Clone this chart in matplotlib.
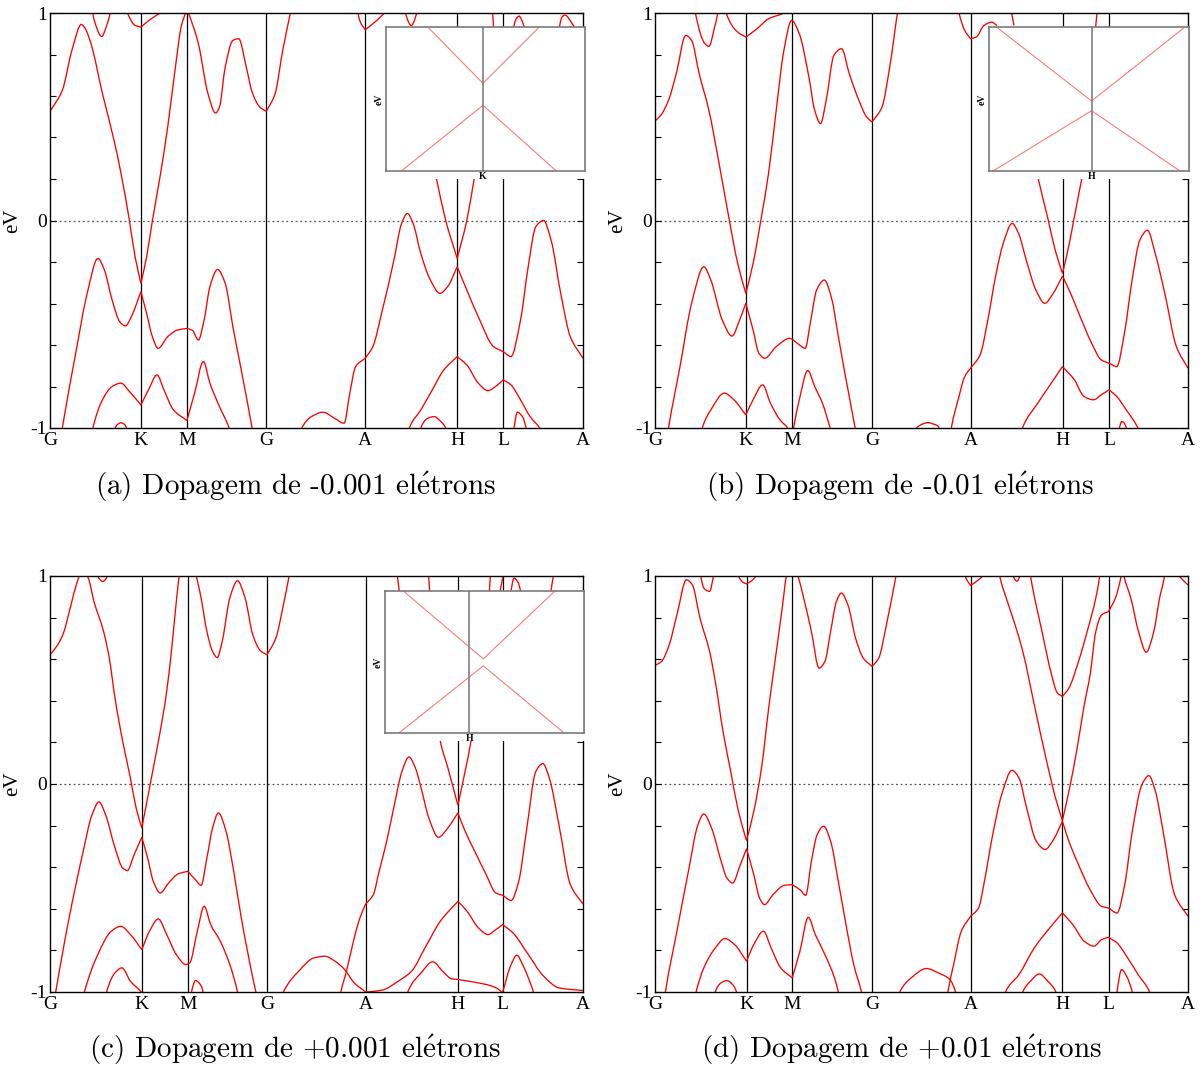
import matplotlib
matplotlib.use("Agg")
import matplotlib.pyplot as plt
from matplotlib.patches import Rectangle, PathPatch
from matplotlib.path import Path
from matplotlib.ticker import MultipleLocator

# ---------------------------------------------------------------------------
# High-symmetry path and band data (k in path units, E in eV relative to E_F)
# ---------------------------------------------------------------------------
kpoint_labels = ['G', 'K', 'M', 'G', 'A', 'H', 'L', 'A']

ticks_a = [0.0, 0.909, 1.369, 2.163, 3.152, 4.072, 4.532, 5.33]
ticks_b = [0.0, 0.908, 1.370, 2.170, 3.155, 4.075, 4.540, 5.33]
ticks_c = [0.0, 0.918, 1.377, 2.170, 3.157, 4.079, 4.527, 5.33]
ticks_d = [0.0, 0.915, 1.372, 2.171, 3.155, 4.074, 4.535, 5.33]

# (a) doping -0.001 e
bands_a = [
    [(0.09, -1.1), (0.123, -1.0), (0.257, -0.64), (0.372, -0.351), (0.479, -0.183), (0.544, -0.239),
     (0.621, -0.383), (0.698, -0.488), (0.755, -0.508), (0.813, -0.464), (0.909, -0.343), (0.966, -0.447),
     (1.024, -0.56), (1.081, -0.616), (1.177, -0.56), (1.273, -0.528), (1.369, -0.52), (1.426, -0.53),
     (1.484, -0.576), (1.541, -0.48), (1.599, -0.319), (1.676, -0.236), (1.752, -0.303), (1.829, -0.512),
     (1.906, -0.704), (2.021, -1.0), (2.05, -1.08)],
    [(0.0, 0.526), (0.123, 0.627), (0.219, 0.82), (0.314, 0.945), (0.352, 0.925), (0.41, 0.852),
     (0.525, 0.611), (0.64, 0.387), (0.717, 0.21), (0.794, 0.0), (0.851, -0.175), (0.909, -0.303),
     (0.966, -0.175), (1.024, 0.0), (1.1, 0.21), (1.177, 0.451), (1.254, 0.739), (1.311, 0.932),
     (1.369, 1.02), (1.446, 0.916), (1.484, 0.852), (1.58, 0.611), (1.656, 0.518), (1.695, 0.547),
     (1.752, 0.739), (1.829, 0.868), (1.887, 0.876), (1.963, 0.739), (2.021, 0.619), (2.097, 0.547),
     (2.163, 0.526), (2.251, 0.611), (2.327, 0.82), (2.404, 1.0), (2.43, 1.06)],
    [(0.40, -1.08), (0.429, -1.0), (0.525, -0.864), (0.621, -0.8), (0.709, -0.784), (0.794, -0.824),
     (0.909, -0.889), (0.985, -0.816), (1.07, -0.744), (1.139, -0.816), (1.235, -0.913), (1.369, -0.964),
     (1.446, -0.832), (1.534, -0.68), (1.599, -0.784), (1.695, -0.897), (1.791, -1.0), (1.82, -1.05)],
    [(0.62, -1.04), (0.67, -0.985), (0.709, -0.975), (0.75, -0.985), (0.79, -1.04)],
    [(0.41, 1.05), (0.44, 0.97), (0.518, 0.887), (0.56, 0.93), (0.602, 1.0), (0.62, 1.05)],
    [(0.75, 1.04), (0.775, 1.0), (0.851, 0.94), (0.909, 0.932), (1.005, 0.97), (1.1, 1.0), (1.15, 1.02)],
    [(2.49, -1.06), (2.519, -1.0), (2.615, -0.945), (2.73, -0.924), (2.845, -0.953), (2.941, -0.977),
     (2.998, -0.832), (3.056, -0.704), (3.152, -0.664), (3.228, -0.608), (3.324, -0.431), (3.439, -0.191),
     (3.516, -0.014), (3.574, 0.034), (3.631, -0.014), (3.708, -0.159), (3.804, -0.287), (3.9, -0.351),
     (3.976, -0.319), (4.072, -0.223), (4.168, -0.335), (4.283, -0.464), (4.436, -0.608), (4.532, -0.632),
     (4.609, -0.656), (4.705, -0.48), (4.782, -0.223), (4.858, -0.03), (4.935, 0.0), (5.011, -0.095),
     (5.107, -0.351), (5.203, -0.56), (5.33, -0.664)],
    [(3.76, 0.43), (3.861, 0.21), (3.957, 0.0), (4.072, -0.183), (4.168, 0.0), (4.245, 0.21), (4.33, 0.43)],
    [(3.57, -1.05), (3.593, -1.0), (3.708, -0.913), (3.823, -0.816), (3.938, -0.72), (4.072, -0.656),
     (4.168, -0.696), (4.283, -0.784), (4.379, -0.82), (4.456, -0.8), (4.532, -0.768), (4.609, -0.792),
     (4.705, -0.864), (4.801, -0.945), (4.897, -1.0), (4.93, -1.03)],
    [(3.69, -1.04), (3.708, -1.0), (3.77, -0.955), (3.842, -0.945), (3.90, -0.965), (3.957, -1.0), (3.98, -1.04)],
    [(4.63, -1.04), (4.64, -1.0), (4.674, -0.924), (4.724, -0.945), (4.762, -1.0), (4.78, -1.04)],
    [(3.06, 1.05), (3.10, 0.96), (3.152, 0.919), (3.228, 0.948), (3.324, 0.99), (3.40, 1.03)],
    [(3.53, 1.03), (3.612, 0.94), (3.69, 1.03)],
    [(4.42, 1.05), (4.44, 0.9)],
    [(4.62, 0.9), (4.66, 0.97), (4.69, 0.985), (4.73, 0.95), (4.76, 0.9)],
    [(5.08, 0.9), (5.12, 0.98), (5.15, 0.99), (5.22, 0.95), (5.27, 0.91)],
]

# (b) doping -0.01 e
bands_b = [
    [(0.0, 0.48), (0.058, 0.507), (0.135, 0.579), (0.212, 0.707), (0.308, 0.892), (0.366, 0.868),
     (0.442, 0.707), (0.539, 0.531), (0.635, 0.29), (0.731, 0.034), (0.827, -0.207), (0.908, -0.351),
     (0.981, -0.207), (1.058, 0.0), (1.135, 0.226), (1.212, 0.531), (1.289, 0.82), (1.366, 0.964),
     (1.443, 0.9), (1.539, 0.691), (1.597, 0.531), (1.655, 0.467), (1.712, 0.579), (1.789, 0.796),
     (1.866, 0.828), (1.943, 0.707), (2.039, 0.579), (2.116, 0.499), (2.17, 0.475), (2.27, 0.547),
     (2.347, 0.739), (2.424, 1.0), (2.44, 1.05)],
    [(0.11, -1.08), (0.135, -1.0), (0.25, -0.704), (0.366, -0.399), (0.489, -0.223), (0.558, -0.287),
     (0.673, -0.48), (0.77, -0.557), (0.846, -0.48), (0.908, -0.399), (0.981, -0.528), (1.039, -0.64),
     (1.097, -0.664), (1.212, -0.608), (1.347, -0.568), (1.424, -0.592), (1.501, -0.616), (1.558, -0.48),
     (1.616, -0.335), (1.693, -0.287), (1.77, -0.383), (1.828, -0.544), (1.905, -0.752), (2.001, -1.0),
     (2.03, -1.08)],
    [(0.45, -1.06), (0.473, -1.0), (0.558, -0.913), (0.693, -0.832), (0.789, -0.864), (0.908, -0.937),
     (0.981, -0.864), (1.077, -0.792), (1.154, -0.88), (1.25, -0.961), (1.327, -1.0), (1.37, -1.04),
     (1.385, -1.0), (1.443, -0.864), (1.528, -0.723), (1.597, -0.8), (1.674, -0.88), (1.751, -1.0),
     (1.78, -1.05)],
    [(0.39, 1.05), (0.404, 1.0), (0.5, 0.852), (0.539, 0.839), (0.596, 0.932), (0.627, 1.0), (0.64, 1.05)],
    [(0.70, 1.03), (0.712, 1.0), (0.827, 0.908), (0.908, 0.884), (1.02, 0.924), (1.135, 0.972),
     (1.27, 0.996), (1.33, 1.01)],
    [(2.58, -1.05), (2.616, -1.0), (2.68, -0.98), (2.732, -0.974), (2.79, -0.982), (2.828, -0.99), (2.87, -1.04)],
    [(2.94, -1.08), (2.963, -1.0), (3.04, -0.848), (3.097, -0.752), (3.155, -0.712), (3.251, -0.648),
     (3.328, -0.48), (3.405, -0.271), (3.482, -0.111), (3.571, -0.014), (3.636, -0.063), (3.713, -0.191),
     (3.809, -0.335), (3.898, -0.399), (3.982, -0.351), (4.075, -0.268), (4.156, -0.351), (4.252, -0.464),
     (4.367, -0.592), (4.463, -0.672), (4.54, -0.688), (4.617, -0.704), (4.694, -0.544), (4.771, -0.287),
     (4.848, -0.095), (4.925, -0.047), (5.002, -0.159), (5.098, -0.351), (5.214, -0.608), (5.33, -0.712)],
    [(3.74, 0.42), (3.828, 0.21), (3.925, 0.018), (4.002, -0.143), (4.075, -0.255), (4.136, -0.127),
     (4.194, 0.018), (4.271, 0.21), (4.36, 0.42)],
    [(3.65, -1.05), (3.675, -1.0), (3.828, -0.88), (3.963, -0.784), (4.075, -0.704), (4.194, -0.768),
     (4.29, -0.848), (4.386, -0.864), (4.463, -0.84), (4.54, -0.816), (4.617, -0.848), (4.713, -0.913),
     (4.829, -1.0), (4.86, -1.04)],
    [(4.63, -1.04), (4.644, -1.0), (4.667, -0.969), (4.69, -0.975), (4.714, -1.0), (4.73, -1.04)],
    [(3.02, 1.05), (3.04, 1.0), (3.097, 0.916), (3.155, 0.876), (3.213, 0.884), (3.29, 0.94),
     (3.367, 0.956), (3.42, 0.94)],
    [(3.55, 1.04), (3.59, 0.94)],
    [(4.39, 0.85), (4.42, 1.0), (4.43, 1.05)],
]

# (c) doping +0.001 e
bands_c = [
    [(0.0, 0.621), (0.077, 0.669), (0.134, 0.725), (0.21, 0.861), (0.268, 0.966), (0.306, 1.01),
     (0.345, 1.02), (0.383, 0.99), (0.44, 0.877), (0.536, 0.733), (0.593, 0.605), (0.65, 0.413),
     (0.727, 0.205), (0.804, 0.029), (0.861, -0.115), (0.918, -0.211), (0.976, -0.067), (1.033, 0.077),
     (1.09, 0.221), (1.167, 0.445), (1.224, 0.685), (1.263, 0.877), (1.293, 1.0), (1.377, 1.12),
     (1.462, 1.0), (1.511, 0.894), (1.569, 0.733), (1.626, 0.637), (1.672, 0.608), (1.722, 0.685),
     (1.798, 0.894), (1.875, 0.977), (1.951, 0.894), (2.028, 0.717), (2.104, 0.641), (2.17, 0.621),
     (2.258, 0.701), (2.334, 0.861), (2.391, 1.0), (2.41, 1.05)],
    [(0.04, -1.05), (0.057, -1.0), (0.191, -0.644), (0.325, -0.339), (0.421, -0.147), (0.49, -0.086),
     (0.555, -0.147), (0.65, -0.307), (0.727, -0.404), (0.773, -0.416), (0.842, -0.339), (0.918, -0.256),
     (0.976, -0.355), (1.033, -0.468), (1.102, -0.524), (1.186, -0.476), (1.282, -0.432), (1.377, -0.42),
     (1.454, -0.46), (1.511, -0.487), (1.569, -0.355), (1.626, -0.211), (1.684, -0.139), (1.76, -0.227),
     (1.837, -0.42), (1.913, -0.644), (2.028, -0.932), (2.059, -1.0), (2.08, -1.05)],
    [(0.32, -1.05), (0.344, -1.0), (0.478, -0.82), (0.612, -0.708), (0.708, -0.684), (0.804, -0.724),
     (0.918, -0.796), (0.995, -0.708), (1.083, -0.649), (1.167, -0.724), (1.263, -0.82), (1.358, -0.868),
     (1.397, -0.86), (1.473, -0.708), (1.542, -0.588), (1.607, -0.676), (1.703, -0.756), (1.798, -0.868),
     (1.875, -1.0), (1.89, -1.04)],
    [(0.55, -1.04), (0.566, -1.0), (0.65, -0.908), (0.719, -0.884), (0.804, -0.948), (0.899, -0.993), (0.95, -1.02)],
    [(1.40, -1.04), (1.415, -1.0), (1.454, -0.945), (1.511, -0.97), (1.55, -1.04)],
    [(0.46, 1.05), (0.478, 1.0), (0.528, 0.974), (0.574, 1.0), (0.59, 1.05)],
    [(2.30, -1.05), (2.334, -1.0), (2.487, -0.9), (2.64, -0.836), (2.747, -0.828), (2.851, -0.852),
     (2.946, -0.892), (3.042, -0.956), (3.157, -1.0), (3.233, -0.997), (3.329, -0.99), (3.482, -0.948),
     (3.616, -0.9), (3.75, -0.788), (3.903, -0.66), (4.079, -0.564), (4.171, -0.612), (4.285, -0.692),
     (4.381, -0.724), (4.458, -0.7), (4.527, -0.676), (4.63, -0.716), (4.783, -0.82), (4.936, -0.924),
     (5.089, -0.98), (5.33, -0.993)],
    [(2.89, -1.05), (2.908, -1.0), (2.965, -0.9), (3.042, -0.74), (3.099, -0.644), (3.157, -0.577),
     (3.233, -0.532), (3.291, -0.42), (3.367, -0.275), (3.444, -0.099), (3.52, 0.061), (3.589, 0.13),
     (3.654, 0.077), (3.711, -0.019), (3.788, -0.163), (3.884, -0.256), (3.979, -0.211), (4.079, -0.139),
     (4.151, -0.227), (4.247, -0.323), (4.362, -0.436), (4.458, -0.524), (4.527, -0.535), (4.611, -0.56),
     (4.687, -0.468), (4.764, -0.227), (4.859, 0.061), (4.928, 0.098), (4.993, 0.029), (5.089, -0.195),
     (5.204, -0.484), (5.33, -0.577)],
    [(3.84, 0.40), (3.903, 0.205), (3.979, 0.077), (4.079, -0.102), (4.151, 0.061), (4.209, 0.205), (4.26, 0.40)],
    [(3.56, -1.04), (3.578, -1.0), (3.711, -0.908), (3.826, -0.855), (3.941, -0.908), (4.018, -0.937),
     (4.079, -0.94), (4.247, -0.953), (4.419, -0.972), (4.515, -1.0), (4.54, -1.03)],
    [(4.52, -1.04), (4.527, -1.0), (4.611, -0.868), (4.668, -0.823), (4.726, -0.868), (4.783, -0.932),
     (4.833, -1.0), (4.85, -1.04)],
    [(3.46, 1.05), (3.50, 0.90)],
    [(3.78, 1.05), (3.80, 0.90)],
    [(4.39, 0.90), (4.41, 1.05)],
    [(4.49, 0.90), (4.55, 1.05)],
    [(4.60, 0.90), (4.64, 0.99), (4.68, 0.97), (4.72, 0.90)],
    [(5.00, 0.90), (5.05, 1.05)],
]

# (d) doping +0.01 e
bands_d = [
    [(0.0, 0.57), (0.065, 0.589), (0.142, 0.669), (0.219, 0.813), (0.315, 0.982), (0.373, 0.958),
     (0.45, 0.797), (0.546, 0.637), (0.603, 0.493), (0.68, 0.253), (0.757, 0.061), (0.834, -0.131),
     (0.915, -0.272), (0.988, -0.131), (1.065, 0.077), (1.141, 0.381), (1.218, 0.653), (1.276, 0.861),
     (1.314, 1.0), (1.372, 1.08), (1.43, 1.0), (1.487, 0.894), (1.564, 0.733), (1.641, 0.557),
     (1.699, 0.589), (1.756, 0.733), (1.814, 0.877), (1.864, 0.918), (1.929, 0.861), (2.006, 0.701),
     (2.083, 0.605), (2.171, 0.565), (2.237, 0.605), (2.314, 0.765), (2.41, 1.0), (2.43, 1.05)],
    [(0.09, -1.05), (0.104, -1.0), (0.219, -0.708), (0.334, -0.42), (0.43, -0.195), (0.488, -0.144),
     (0.565, -0.211), (0.661, -0.371), (0.719, -0.452), (0.776, -0.476), (0.853, -0.388), (0.915, -0.311),
     (0.988, -0.436), (1.045, -0.548), (1.095, -0.58), (1.18, -0.532), (1.295, -0.487), (1.372, -0.484),
     (1.449, -0.508), (1.507, -0.535), (1.564, -0.371), (1.622, -0.243), (1.687, -0.203), (1.756, -0.275),
     (1.833, -0.468), (1.91, -0.676), (1.987, -0.868), (2.064, -1.0), (2.08, -1.04)],
    [(0.39, -1.05), (0.411, -1.0), (0.488, -0.884), (0.603, -0.788), (0.699, -0.743), (0.796, -0.772),
     (0.915, -0.852), (0.988, -0.772), (1.084, -0.708), (1.161, -0.788), (1.257, -0.884), (1.372, -0.932),
     (1.449, -0.804), (1.533, -0.641), (1.603, -0.724), (1.699, -0.82), (1.795, -0.932), (1.833, -1.0),
     (1.85, -1.04)],
    [(0.59, -1.04), (0.603, -1.0), (0.661, -0.956), (0.719, -0.945), (0.776, -0.964), (0.815, -1.0), (0.83, -1.04)],
    [(0.44, 1.05), (0.457, 1.0), (0.488, 0.942), (0.546, 0.926), (0.584, 1.0), (0.60, 1.05)],
    [(0.81, 1.05), (0.834, 1.0), (0.88, 0.97), (0.915, 0.962), (0.96, 0.975), (1.007, 1.0), (1.03, 1.05)],
    [(2.42, -1.05), (2.448, -1.0), (2.563, -0.932), (2.717, -0.887), (2.832, -0.908), (2.948, -0.94),
     (3.005, -1.0), (3.02, -1.04)],
    [(2.91, -1.06), (2.929, -1.0), (2.986, -0.868), (3.063, -0.708), (3.155, -0.636), (3.236, -0.596),
     (3.294, -0.468), (3.371, -0.259), (3.467, -0.051), (3.57, 0.066), (3.64, 0.029), (3.716, -0.115),
     (3.813, -0.275), (3.901, -0.315), (3.985, -0.267), (4.074, -0.179), (4.139, -0.275), (4.235, -0.388),
     (4.351, -0.508), (4.466, -0.588), (4.535, -0.596), (4.62, -0.62), (4.697, -0.484), (4.773, -0.227),
     (4.869, -0.003), (4.939, 0.04), (5.004, -0.035), (5.081, -0.227), (5.196, -0.532), (5.33, -0.636)],
    [(3.43, 1.05), (3.447, 1.0), (3.524, 0.877), (3.601, 0.765), (3.678, 0.637), (3.793, 0.381),
     (3.909, 0.125), (4.005, -0.067), (4.074, -0.176), (4.139, -0.035), (4.216, 0.157), (4.293, 0.381),
     (4.351, 0.525), (4.408, 0.733), (4.466, 0.813), (4.535, 0.829), (4.604, 0.894), (4.662, 1.0), (4.68, 1.05)],
    [(3.74, 1.05), (3.755, 1.0), (3.87, 0.733), (3.966, 0.525), (4.024, 0.437), (4.074, 0.421),
     (4.139, 0.461), (4.235, 0.589), (4.331, 0.749), (4.408, 0.894), (4.447, 1.0), (4.46, 1.05)],
    [(3.48, -1.05), (3.505, -1.0), (3.64, -0.916), (3.793, -0.788), (3.947, -0.692), (4.074, -0.62),
     (4.178, -0.676), (4.293, -0.756), (4.389, -0.78), (4.466, -0.748), (4.535, -0.737), (4.62, -0.764),
     (4.716, -0.828), (4.831, -0.916), (4.946, -1.0), (4.97, -1.04)],
    [(3.66, -1.04), (3.678, -1.0), (3.755, -0.948), (3.843, -0.913), (3.928, -0.948), (4.005, -0.996), (4.03, -1.04)],
    [(4.61, -1.04), (4.62, -1.0), (4.666, -0.892), (4.716, -0.924), (4.773, -1.0), (4.79, -1.04)],
    [(4.67, 1.05), (4.689, 1.0), (4.758, 0.894), (4.835, 0.733), (4.912, 0.634), (4.988, 0.733),
     (5.046, 0.894), (5.096, 1.0), (5.11, 1.05)],
    [(5.19, 1.03), (5.25, 0.995), (5.33, 0.957)],
    [(3.08, 1.05), (3.101, 1.0), (3.155, 0.954), (3.236, 0.982), (3.274, 1.0), (3.29, 1.03)],
    [(3.55, 1.03), (3.62, 0.975), (3.67, 1.03)],
]

# Zoomed views of the gap at the crossing point
inset_a_upper = [(-0.0277, 0.1), (0.0, 0.0218), (0.0283, 0.1)]
inset_a_lower = [(-0.041, -0.1), (0.0, -0.0088), (0.0369, -0.1)]
inset_b_upper = [(-0.0476, 0.1), (0.0, -0.0028), (0.0467, 0.1)]
inset_b_lower = [(-0.0493, -0.1), (0.0, -0.0162), (0.0442, -0.1)]
inset_c_upper = [(-0.0402, 0.1), (0.0, 0.0044), (0.036, 0.1)]
inset_c_lower = [(-0.0424, -0.1), (0.0, -0.0054), (0.0406, -0.1)]

captions = [
    r'(a) Dopagem de -0.001 el$\mathrm{\acute{e}}$trons',
    r'(b) Dopagem de -0.01 el$\mathrm{\acute{e}}$trons',
    r'(c) Dopagem de +0.001 el$\mathrm{\acute{e}}$trons',
    r'(d) Dopagem de +0.01 el$\mathrm{\acute{e}}$trons',
]

# ---------------------------------------------------------------------------
plt.rcParams['mathtext.fontset'] = 'cm'
W, H = 1202, 1070
fig = plt.figure(figsize=(W / 100, H / 100), dpi=100)
SERIF = 'Liberation Serif'
RED = '#ff0000'


def px_rect(l, t, r, b):
    return [l / W, 1 - b / H, (r - l) / W, (b - t) / H]


def band_path(points, corners):
    """Shape-preserving cubic Bezier path through the band points.
    Points sitting on a high-symmetry line keep one-sided slopes (kinks)."""
    k = [p[0] for p in points]
    e = [p[1] for p in points]
    n = len(points)
    if n < 3:
        return Path(points)
    d = [(e[i + 1] - e[i]) / (k[i + 1] - k[i]) for i in range(n - 1)]
    m_in = [0.0] * n
    m_out = [0.0] * n
    m_in[0] = m_out[0] = d[0]
    m_in[-1] = m_out[-1] = d[-1]
    for i in range(1, n - 1):
        if any(abs(k[i] - c) < 2e-3 for c in corners):
            m_in[i], m_out[i] = d[i - 1], d[i]
        elif d[i - 1] * d[i] <= 0:
            m_in[i] = m_out[i] = 0.0
        else:
            h0, h1 = k[i] - k[i - 1], k[i + 1] - k[i]
            w1, w2 = 2 * h1 + h0, h1 + 2 * h0
            m = (w1 + w2) / (w1 / d[i - 1] + w2 / d[i])
            m_in[i] = m_out[i] = m
    verts = [(k[0], e[0])]
    codes = [Path.MOVETO]
    for i in range(n - 1):
        h = k[i + 1] - k[i]
        verts += [(k[i] + h / 3, e[i] + m_out[i] * h / 3),
                  (k[i + 1] - h / 3, e[i + 1] - m_in[i + 1] * h / 3),
                  (k[i + 1], e[i + 1])]
        codes += [Path.CURVE4] * 3
    return Path(verts, codes)


def band_panel(box, bands, ticks):
    ax = fig.add_axes(px_rect(*box))
    ax.set_zorder(0)
    for band in bands:
        ax.add_patch(PathPatch(band_path(band, ticks[1:-1]), facecolor='none',
                               edgecolor=RED, lw=0.95, zorder=2))
    for x in ticks[1:-1]:
        ax.axvline(x, color='black', lw=0.9, zorder=1.5)
    ax.axhline(0.0, color='#555555', lw=0.9, ls=(0, (1.5, 2.2)), zorder=1.4)
    ax.set_xlim(ticks[0], ticks[-1])
    ax.set_ylim(-1, 1)
    ax.set_xticks(ticks)
    ax.set_xticklabels(kpoint_labels, fontfamily=SERIF, fontsize=14)
    ax.tick_params(axis='x', length=0, pad=3)
    ax.set_yticks([-1, 0, 1])
    ax.set_yticklabels(['-1', '0', '1'], fontfamily=SERIF, fontsize=14)
    ax.yaxis.set_minor_locator(MultipleLocator(0.2))
    ax.tick_params(axis='y', which='both', direction='in', left=True, right=True,
                   length=4, width=0.8, pad=2)
    ax.set_ylabel('eV', fontfamily=SERIF, fontsize=15)
    ax.yaxis.set_label_coords(-0.052, 0.5)
    for s in ax.spines.values():
        s.set_linewidth(1.0)
        s.set_color('black')
    return ax


def zoom_inset(box, main_box, upper, lower, xlim, mark, label):
    l, t, r, b = box
    # white backing under the inset and its tick label
    fig.add_artist(Rectangle((l / W, 1 - (b + 8) / H), (main_box[2] + 3 - l) / W, 9 / H,
                             transform=fig.transFigure, facecolor='white',
                             edgecolor='none', zorder=1))
    ins = fig.add_axes(px_rect(*box))
    ins.set_zorder(2)
    for seg in (upper, lower):
        k, e = zip(*seg)
        ins.plot(k, e, color='#ff7a7a', lw=0.8)
    ins.axvline(mark, color='#808080', lw=1.2)
    ins.set_xlim(*xlim)
    ins.set_ylim(-0.1, 0.1)
    ins.set_xticks([mark])
    ins.set_xticklabels([label], fontfamily=SERIF, fontsize=7, fontweight='bold')
    ins.tick_params(axis='x', length=0, pad=0.5)
    ins.set_yticks([])
    ins.set_ylabel('eV', fontfamily=SERIF, fontsize=7, fontweight='bold', labelpad=2)
    for s in ins.spines.values():
        s.set_linewidth(1.2)
        s.set_color('#7a7a7a')
    return ins


box_a = (50, 13, 583, 428)
box_b = (655, 13, 1188, 428)
box_c = (50, 576, 583, 992)
box_d = (655, 576, 1188, 992)

band_panel(box_a, bands_a, ticks_a)
band_panel(box_b, bands_b, ticks_b)
band_panel(box_c, bands_c, ticks_c)
band_panel(box_d, bands_d, ticks_d)

zoom_inset((386, 27, 585, 171), box_a, inset_a_upper, inset_a_lower, (-0.0487, 0.0513), 0.0, 'K')
zoom_inset((989, 27, 1189, 171), box_b, inset_b_upper, inset_b_lower, (-0.0513, 0.0487), 0.0, 'H')
zoom_inset((385, 591, 584, 733), box_c, inset_c_upper, inset_c_lower, (-0.0494, 0.0506), -0.007, 'H')

caption_pos = [(295, 487), (900, 487), (295, 1050), (901, 1050)]
for text, (x, y) in zip(captions, caption_pos):
    fig.text(x / W, 1 - y / H, text, ha='center', va='center', fontsize=21, fontfamily='cmr10')

fig.savefig('out.png', dpi=100, facecolor='white')
